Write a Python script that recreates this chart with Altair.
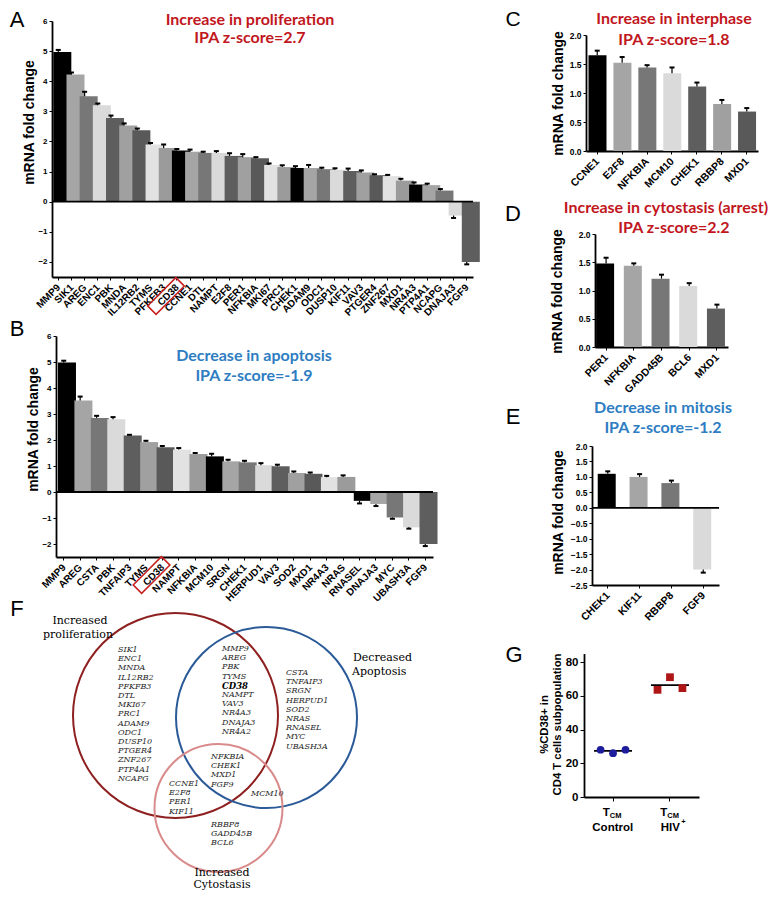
import altair as alt
import pandas as pd

# ---------------- data ----------------
a_genes = ["MMP9", "SIK1", "AREG", "ENC1", "PBK", "MNDA", "IL12RB2", "TYMS", "PFKFB3", "CD38",
           "CCNE1", "DTL", "NAMPT", "E2F8", "PER1", "NFKBIA", "MKI67", "PRC1", "CHEK1", "ADAM9",
           "ODC1", "DUSP10", "KIF11", "VAV3", "PTGER4", "ZNF267", "MXD1", "NR4A3", "PTP4A1",
           "NCAPG", "DNAJA3", "FGF9"]
a_values = [4.97, 4.22, 3.50, 3.20, 2.78, 2.53, 2.37, 1.90, 1.78, 1.70, 1.66, 1.62, 1.62, 1.52,
            1.48, 1.44, 1.22, 1.15, 1.12, 1.12, 1.08, 1.06, 1.02, 0.97, 0.88, 0.85, 0.70, 0.57,
            0.55, 0.37, -0.46, -2.00]
a_errors = [0.07, 0.07, 0.15, 0.06, 0.08, 0.07, 0.06, 0.05, 0.12, 0.05, 0.07, 0.04, 0.06, 0.09,
            0.10, 0.04, 0.05, 0.06, 0.06, 0.10, 0.05, 0.05, 0.08, 0.07, 0.03, 0.04, 0.06, 0.07,
            0.05, 0.05, 0.08, 0.08]

b_genes = ["MMP9", "AREG", "CSTA", "PBK", "TNFAIP3", "TYMS", "CD38", "NAMPT", "NFKBIA", "MCM10",
           "SRGN", "CHEK1", "HERPUD1", "VAV3", "SOD2", "MXD1", "NR4A3", "NRAS", "RNASEL",
           "DNAJA3", "MYC", "UBASH3A", "FGF9"]
b_values = [4.98, 3.52, 2.85, 2.80, 2.17, 1.92, 1.72, 1.63, 1.46, 1.37, 1.18, 1.14, 1.03, 0.99,
            0.73, 0.70, 0.57, 0.58, -0.34, -0.46, -0.98, -1.36, -2.00]
b_errors = [0.07, 0.15, 0.08, 0.08, 0.03, 0.05, 0.05, 0.06, 0.04, 0.10, 0.06, 0.06, 0.08, 0.06,
            0.06, 0.05, 0.05, 0.06, 0.10, 0.08, 0.05, 0.05, 0.08]

c_genes = ["CCNE1", "E2F8", "NFKBIA", "MCM10", "CHEK1", "RBBP8", "MXD1"]
c_values = [1.65, 1.52, 1.44, 1.34, 1.11, 0.81, 0.68]
c_errors = [0.08, 0.10, 0.04, 0.10, 0.07, 0.07, 0.06]

d_genes = ["PER1", "NFKBIA", "GADD45B", "BCL6", "MXD1"]
d_values = [1.48, 1.44, 1.21, 1.08, 0.68]
d_errors = [0.10, 0.04, 0.07, 0.05, 0.07]

e_genes = ["CHEK1", "KIF11", "RBBP8", "FGF9"]
e_values = [1.10, 1.00, 0.80, -2.00]
e_errors = [0.08, 0.09, 0.08, 0.10]

g_groups = ["Control", "HIV"]
g_control = [28.0, 26.0, 28.0]
g_hiv = [63.5, 71.0, 64.5]

venn_sets = ["Increased proliferation", "Decreased Apoptosis", "Increased Cytostasis"]
venn_cx = [175.5, 266.5, 218.5]
venn_cy = [715.5, 717.5, 808.0]
venn_diam = [205, 181, 128]
venn_colors = ["#8e2020", "#2b5a98", "#d98a8a"]

venn_prolif = ["SIK1", "ENC1", "MNDA", "IL12RB2", "PFKFB3", "DTL", "MKI67", "PRC1", "ADAM9",
               "ODC1", "DUSP10", "PTGER4", "ZNF267", "PTP4A1", "NCAPG"]
venn_prolif_apop = ["MMP9", "AREG", "PBK", "TYMS", "CD38", "NAMPT", "VAV3", "NR4A3", "DNAJA3", "NR4A2"]
venn_apop = ["CSTA", "TNFAIP3", "SRGN", "HERPUD1", "SOD2", "NRAS", "RNASEL", "MYC", "UBASH3A"]
venn_all = ["NFKBIA", "CHEK1", "MXD1", "FGF9"]
venn_prolif_cyto = ["CCNE1", "E2F8", "PER1", "KIF11"]
venn_apop_cyto = ["MCM10"]
venn_cyto = ["RBBP8", "GADD45B", "BCL6"]

# ---------------- style / layout ----------------
W, H = 763, 883
M = 8


def px(v):
    return v - M


SANS = "Liberation Sans"
TFONT = "Lato"
SERIF = "DejaVu Serif"
RED = "#c1161d"
BLUE = "#2e7dc2"
SHADES = ["#000000", "#a5a5a5", "#777777", "#dadada", "#5e5e5e",
          "#a0a0a0", "#595959", "#e2e2e2", "#9b9b9b"]
BOX = "M0.495,-0.919L0.919,-0.495L-0.495,0.919L-0.919,0.495Z"
ONE = pd.DataFrame({"z": [0]})


def note(text, x, y, size, color="black", weight="normal", font=SANS, align="center",
         style="normal", baseline="middle"):
    return alt.Chart(ONE).mark_text(
        text=text, fontSize=size, color=color, fontWeight=weight, font=font, align=align,
        baseline=baseline, fontStyle=style
    ).encode(x=alt.value(px(x)), y=alt.value(px(y)))


def bar_panel(genes, values, errors, xr, pi, po, ydom, yr, yticks, yfmt, ytitle_xy,
              xlab_size, ylab_size, zero_line, box=None):
    n = len(genes)
    df = pd.DataFrame({"gene": genes, "value": values, "err": errors})
    df["shade"] = [SHADES[i % 9] for i in range(n)]
    df["base"] = 0.0
    df["tip"] = [v + e if v >= 0 else v - e for v, e in zip(values, errors)]
    xs = alt.Scale(domain=genes, range=[px(xr[0]), px(xr[1])], paddingInner=pi, paddingOuter=po)
    ys = alt.Scale(domain=ydom, range=[px(yr[0]), px(yr[1])], nice=False, zero=False)
    xaxis = alt.Axis(orient="bottom", offset=px(yr[0]) - H, title=None, labelAngle=-45,
                     labelOffset=-3,
                     labelFont=SANS, labelFontWeight="bold", labelFontSize=xlab_size,
                     labelColor="black", domainColor="black", domainWidth=1.8,
                     tickColor="black", tickSize=3, labelPadding=2, grid=False)
    yaxis = alt.Axis(orient="left", offset=-px(xr[0]), title="mRNA fold change", values=yticks,
                     format=yfmt, labelFont=SANS, labelFontWeight="bold",
                     labelFontSize=ylab_size, labelColor="black", domainColor="black",
                     domainWidth=1.8, tickColor="black", tickSize=3, labelPadding=2,
                     grid=False, titleX=ytitle_xy[0] - xr[0], titleY=px(ytitle_xy[1]),
                     titleAngle=270, titleAlign="center", titleBaseline="middle",
                     titleFont=SANS, titleFontSize=14, titleFontWeight="bold",
                     titleColor="black")
    base = alt.Chart(df)
    X = alt.X("gene:N", scale=xs, sort=None, axis=None)
    bars = base.mark_bar().encode(
        x=alt.X("gene:N", scale=xs, sort=None, axis=xaxis),
        y=alt.Y("value:Q", scale=ys, axis=yaxis),
        y2="base:Q",
        color=alt.Color("shade:N", scale=None),
    )
    err = base.mark_rule(color="black", strokeWidth=1.2).encode(
        x=X, y=alt.Y("value:Q", scale=ys, axis=None), y2="tip:Q")
    cap = base.mark_tick(color="black", thickness=2, size=5, opacity=1).encode(
        x=X, y=alt.Y("tip:Q", scale=ys, axis=None))
    layers = [bars, err, cap]
    if zero_line:
        layers.append(alt.Chart(ONE).mark_rule(color="black", strokeWidth=1.8).encode(
            y=alt.Y("z:Q", scale=ys, axis=None),
            x=alt.value(px(xr[0])), x2=alt.value(px(xr[1]))))
    if box is not None:
        layers.append(base.mark_point(shape=BOX, size=1600, filled=False, color="#c8201e",
                                      strokeWidth=1.5, opacity=1, xOffset=box[1]).encode(
            x=X, y=alt.value(px(yr[0] + box[2]))
        ).transform_filter(alt.datum.gene == box[0]))
    return layers


# ---------------- panel A ----------------
pA = bar_panel(a_genes, a_values, a_errors, (52, 473), 0.25, 0.1, [-2.5, 6], (277, 21),
               list(range(-2, 7)), "d", (29, 122), 10, 8, True, box=("CD38", -11, 19)) + [
    note("A", 17, 20, 22),
    note("Increase in proliferation", 250, 20, 16, RED, "bold", TFONT),
    note("IPA z-score=2.7", 250, 37.5, 16, RED, "bold", TFONT),
]

# ---------------- panel B ----------------
pB = bar_panel(b_genes, b_values, b_errors, (56, 433), 0.3, 0.12, [-2.5, 6], (557, 336),
               list(range(-2, 7)), "d", (33, 429), 10, 8, True, box=("CD38", -11, 18)) + [
    note("B", 17, 329, 22),
    note("Decrease in apoptosis", 254, 356, 16, BLUE, "bold", TFONT),
    note("IPA z-score=-1.9", 254, 376, 16, BLUE, "bold", TFONT),
]

# ---------------- panel C ----------------
pC = bar_panel(c_genes, c_values, c_errors, (586, 758), 0.3, 0.1, [0, 2], (151, 35),
               [0, 0.5, 1.0, 1.5, 2.0], ".1f", (558, 93), 10.5, 8.5, False) + [
    note("C", 513, 20, 21),
    note("Increase in interphase", 674, 19, 16, RED, "bold", TFONT),
    note("IPA z-score=1.8", 674, 40, 16, RED, "bold", TFONT),
]

# ---------------- panel D ----------------
pD = bar_panel(d_genes, d_values, d_errors, (595, 728), 0.28, 0.04, [0, 2], (347, 234),
               [0, 0.5, 1.0, 1.5, 2.0], ".1f", (557, 291), 10.5, 8.5, False) + [
    note("D", 513, 214, 22),
    note("Increase in cytostasis (arrest)", 666, 208, 16, RED, "bold", TFONT),
    note("IPA z-score=2.2", 674, 228, 16, RED, "bold", TFONT),
]

# ---------------- panel E ----------------
pE = bar_panel(e_genes, e_values, e_errors, (592, 719), 0.37, 0.18, [-2.5, 2], (585, 446),
               [-2.5, -2.0, -1.5, -1.0, -0.5, 0, 0.5, 1.0, 1.5, 2.0], ".1f", (558, 512),
               10.5, 8.5, True) + [
    note("E", 513, 417, 22),
    note("Decrease in mitosis", 663, 408, 16, BLUE, "bold", TFONT),
    note("IPA z-score=-1.2", 663, 428, 16, BLUE, "bold", TFONT),
]

# ---------------- panel F (Venn) ----------------
fx = alt.Scale(domain=[0, 480], range=[px(0), px(480)])
fy = alt.Scale(domain=[600, 899], range=[px(600), px(899)])
circ = pd.DataFrame({"set": venn_sets, "cx": venn_cx, "cy": venn_cy,
                     "size": [d * d for d in venn_diam], "col": venn_colors})
circles = alt.Chart(circ).mark_point(shape="circle", filled=False, strokeWidth=2, opacity=1).encode(
    x=alt.X("cx:Q", scale=fx, axis=None),
    y=alt.Y("cy:Q", scale=fy, axis=None),
    size=alt.Size("size:Q", scale=None),
    color=alt.Color("col:N", scale=None),
)
LINE = 9.2
regions = [
    (venn_prolif, 118, 650),
    (venn_prolif_apop, 222, 649),
    (venn_apop, 286, 673),
    (venn_all, 211, 757),
    (venn_prolif_cyto, 169, 784),
    (venn_apop_cyto, 251, 794),
    (venn_cyto, 211, 825),
]
rows = []
for genes, gx0, gy0 in regions:
    for i, g in enumerate(genes):
        rows.append({"gene": g, "gx": gx0, "gy": gy0 + i * LINE,
                     "w": "bold" if g == "CD38" else "normal"})
gdf = pd.DataFrame(rows)
gene_txt = alt.Chart(gdf).mark_text(font=SERIF, fontStyle="italic", fontSize=8, align="left",
                                    baseline="middle", color="#262626").encode(
    x=alt.X("gx:Q", scale=fx, axis=None),
    y=alt.Y("gy:Q", scale=fy, axis=None),
    text="gene:N",
).transform_filter(alt.datum.w == "normal")
gene_bold = alt.Chart(gdf).mark_text(font=SERIF, fontStyle="italic", fontWeight="bold",
                                     fontSize=8.5, align="left", baseline="middle",
                                     color="black").encode(
    x=alt.X("gx:Q", scale=fx, axis=None),
    y=alt.Y("gy:Q", scale=fy, axis=None),
    text="gene:N",
).transform_filter(alt.datum.w == "bold")
pF = [
    circles, gene_txt, gene_bold,
    note("F", 17, 609, 22),
    note("Increased", 80, 621, 11, font=SERIF),
    note("proliferation", 78, 635, 11, font=SERIF),
    note("Decreased", 353, 658, 11, font=SERIF, align="left"),
    note("Apoptosis", 352, 672, 11, font=SERIF, align="left"),
    note("Increased", 222, 873, 11, font=SERIF),
    note("Cytostasis", 222, 885, 11, font=SERIF),
]

# ---------------- panel G ----------------
gdata = pd.DataFrame({
    "group": ["Control"] * len(g_control) + ["HIV"] * len(g_hiv),
    "rep": [1, 2, 3] * 2,
    "value": g_control + g_hiv,
})
gx = alt.Scale(domain=g_groups, range=[px(584), px(699)], paddingInner=0.3, paddingOuter=0.16)
gy = alt.Scale(domain=[0, 85], range=[px(797), px(797 - 85 * 1.6875)], nice=False, zero=False)
g_yaxis = alt.Axis(orient="left", offset=-px(584), values=[0, 20, 40, 60, 80],
                   title=["%CD38+ in", "CD4 T cells subpopulation"], labelFont=SANS,
                   labelFontWeight="bold", labelFontSize=11.5, labelColor="black",
                   domainColor="black", domainWidth=1.8, tickColor="black", tickSize=4,
                   grid=False, titleX=-40, titleY=px(724), titleAngle=270,
                   titleAlign="center", titleBaseline="middle", titleFont=SANS,
                   titleFontSize=11.3, titleFontWeight="bold", titleLineHeight=13.5,
                   titleColor="black")
g_xaxis = alt.Axis(orient="bottom", offset=px(797) - H, labels=False, title=None,
                   domainColor="black", domainWidth=1.8, tickColor="black", tickSize=4,
                   grid=False)
GX = alt.X("group:N", scale=gx, axis=None)
g_points = alt.Chart(gdata).mark_point(filled=True, size=60, opacity=1).encode(
    x=alt.X("group:N", scale=gx, axis=g_xaxis),
    xOffset=alt.XOffset("rep:N", scale=alt.Scale(paddingOuter=0.6, paddingInner=0)),
    y=alt.Y("value:Q", scale=gy, axis=g_yaxis),
    shape=alt.Shape("group:N", scale=alt.Scale(domain=g_groups, range=["circle", "square"]),
                    legend=None),
    color=alt.Color("group:N", scale=alt.Scale(domain=g_groups, range=["#1c1c9c", "#b01515"]),
                    legend=None),
)
g_mean = alt.Chart(gdata).mark_tick(color="black", thickness=1.8, size=38, opacity=1).encode(
    x=GX, y=alt.Y("mean(value):Q", scale=gy, axis=None))
glab = pd.DataFrame({"group": g_groups, "name": ["Control", "HIV"]})
g_T = alt.Chart(glab).mark_text(text="T", font=SANS, fontWeight="bold", fontSize=11.5,
                                align="right", baseline="middle", dx=-3).encode(
    x=GX, y=alt.value(px(813)))
g_CM = alt.Chart(glab).mark_text(text="CM", font=SANS, fontWeight="bold", fontSize=7.5,
                                 align="left", baseline="middle", dx=-3).encode(
    x=GX, y=alt.value(px(816)))
g_name = alt.Chart(glab).mark_text(font=SANS, fontWeight="bold", fontSize=11.5,
                                   align="center", baseline="middle").encode(
    x=GX, y=alt.value(px(828)), text="name:N")
g_plus = alt.Chart(glab).mark_text(text="+", font=SANS, fontWeight="bold", fontSize=7.5,
                                   align="left", baseline="middle", dx=11).encode(
    x=GX, y=alt.value(px(822))).transform_filter(alt.datum.group == "HIV")
pG = [g_mean, g_points, g_T, g_CM, g_name, g_plus, note("G", 514, 655, 22)]

chart = alt.layer(*(pA + pB + pC + pD + pE + pF + pG)).resolve_scale(
    x="independent", y="independent", color="independent", shape="independent",
    size="independent"
).resolve_axis(x="independent", y="independent").properties(
    width=W, height=H, padding=0, autosize=alt.AutoSizeParams(type="none")
).configure_view(stroke=None)

chart.save("out.html", embed_options={"renderer": "svg", "actions": False})
